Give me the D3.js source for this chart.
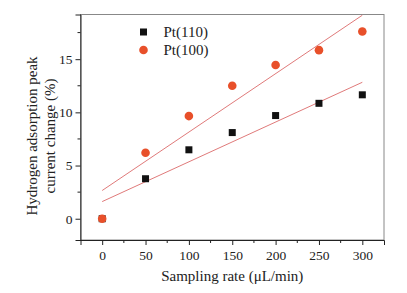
<!DOCTYPE html>
<html>
<head>
<meta charset="utf-8">
<script src="https://cdn.jsdelivr.net/npm/d3@7"></script>
<style>
  body { margin: 0; background: #fff; }
  svg text { font-family: "Liberation Serif", "Times New Roman", "DejaVu Serif", serif !important; fill: #222; }
</style>
</head>
<body>
<svg id="chart" width="407" height="293" font-family="Liberation Serif, serif"></svg>
<script>
// 采样速率
const rates = [0, 50, 100, 150, 200, 250, 300]
const pt110 = [0, 3.76, 6.48, 8.1, 9.7, 10.85, 11.65]
const pt100 = [0, 6.2, 9.65, 12.5, 14.45, 15.85, 17.6]
const xTicks = [0, 50, 100, 150, 200, 250, 300]
const yTicks = [0, 5, 10, 15]

const series = [
  { name: 'Pt(110)', values: pt110, shape: 'square', color: '#111' },
  { name: 'Pt(100)', values: pt100, shape: 'circle', color: '#e8502a' }
]

const margin = { left: 80.5, right: 23, top: 14.5, bottom: 53 }
const W = 407, H = 293
const svg = d3.select('#chart')

const x = d3.scaleLinear().domain([-25, 325]).range([margin.left, W - margin.right])
const y = d3.scaleLinear().domain([-2, 19.2]).range([H - margin.bottom, margin.top])

// 外框 (上/右 灰色)
svg.append('rect')
  .attr('x', margin.left).attr('y', margin.top)
  .attr('width', x.range()[1] - margin.left)
  .attr('height', y.range()[0] - margin.top)
  .attr('fill', 'none').attr('stroke', '#888').attr('stroke-width', 1)

// 坐标轴
const xAxis = svg.append('g').attr('transform', `translate(0,${y.range()[0]})`)
  .call(d3.axisBottom(x).tickValues(xTicks).tickSize(5).tickFormat(d3.format('d')))
xAxis.append('g').selectAll('line').data(d3.range(25, 325, 50)).join('line')
  .attr('x1', d => x(d)).attr('x2', d => x(d)).attr('y1', 0).attr('y2', 3)
  .attr('stroke', '#222')

const yAxis = svg.append('g').attr('transform', `translate(${margin.left},0)`)
  .call(d3.axisLeft(y).tickValues(yTicks).tickSize(5))
yAxis.append('g').selectAll('line').data([2.5, 7.5, 12.5, 17.5]).join('line')
  .attr('y1', d => y(d)).attr('y2', d => y(d)).attr('x1', 0).attr('x2', -3)
  .attr('stroke', '#222')

svg.selectAll('.domain').attr('stroke', '#222')
svg.selectAll('.tick line').attr('stroke', '#222')
svg.selectAll('g').attr('font-family', null)
svg.selectAll('.tick text').style('font-size', '13.5px').attr('fill', '#222')
xAxis.selectAll('.tick text').attr('dy', '0.9em')
yAxis.selectAll('.tick text').attr('x', -8)

// 线性拟合
const g = svg.append('g')
series.forEach(s => {
  const mx = d3.mean(rates), my = d3.mean(s.values)
  const sxy = d3.sum(rates, (r, i) => (r - mx) * (s.values[i] - my))
  const sxx = d3.sum(rates, r => (r - mx) * (r - mx))
  const k = sxy / sxx, b = my - k * mx
  const ends = d3.extent(rates)
  g.append('path')
    .attr('d', d3.line().x(d => x(d)).y(d => y(k * d + b))(ends))
    .attr('stroke', '#e07a7a').attr('stroke-width', 1).attr('fill', 'none')
})

// 数据点
series.forEach(s => {
  const pts = g.append('g')
  if (s.shape === 'square') {
    pts.selectAll('rect').data(s.values).join('rect')
      .attr('x', (d, i) => x(rates[i]) - 3.5).attr('y', d => y(d) - 3.5)
      .attr('width', 7).attr('height', 7).attr('fill', s.color)
  } else {
    pts.selectAll('circle').data(s.values).join('circle')
      .attr('cx', (d, i) => x(rates[i])).attr('cy', d => y(d))
      .attr('r', 4.3).attr('fill', s.color)
  }
})

// 图例
const legend = svg.append('g').attr('transform', 'translate(143.5,32)')
series.forEach((s, i) => {
  const row = legend.append('g').attr('transform', `translate(0,${i * 18})`)
  if (s.shape === 'square') {
    row.append('rect').attr('x', -3.5).attr('y', -3.5).attr('width', 7).attr('height', 7).attr('fill', s.color)
  } else {
    row.append('circle').attr('r', 4.3).attr('fill', s.color)
  }
  row.append('text').attr('x', 20).attr('dy', '0.35em').style('font-size', '15px').text(s.name)
})

// 轴标题
svg.append('text')
  .attr('x', x(150)).attr('y', 281)
  .attr('text-anchor', 'middle').style('font-size', '15px')
  .text('Sampling rate (μL/min)')

const yt = svg.append('text')
  .attr('transform', `translate(0,136) rotate(-90)`)
  .attr('text-anchor', 'middle').style('font-size', '15px')
yt.append('tspan').attr('x', 0).attr('y', 37).text('Hydrogen adsorption peak')
yt.append('tspan').attr('x', 0).attr('y', 55).text('current change (%)')
</script>
</body>
</html>
